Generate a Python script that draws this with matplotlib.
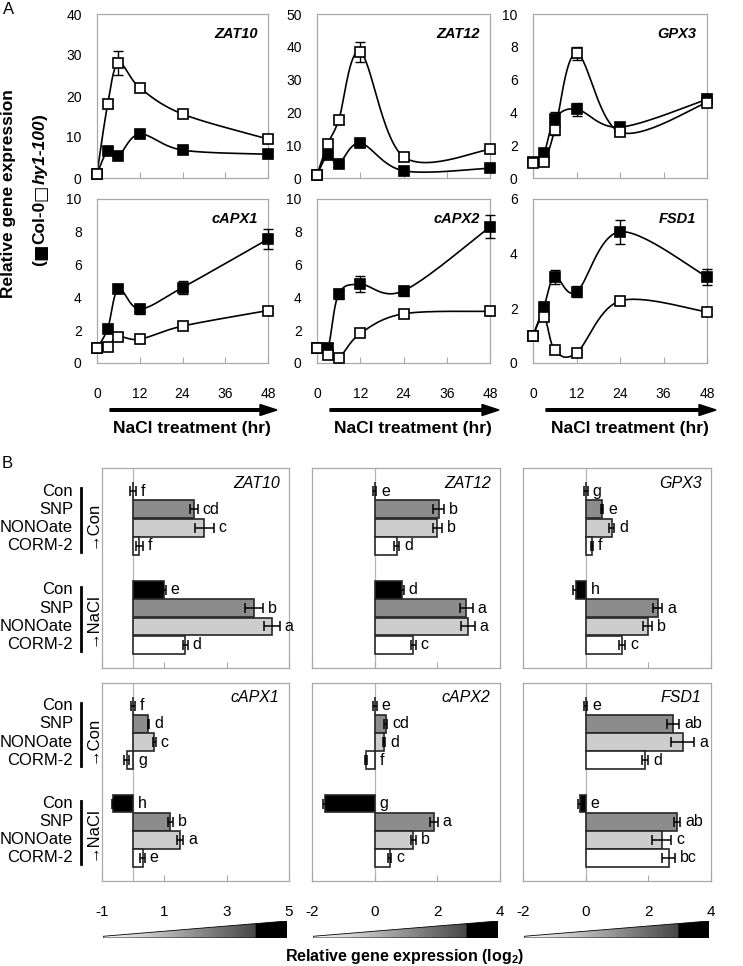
import numpy as np
import matplotlib
matplotlib.use('Agg')
import matplotlib.pyplot as plt
import matplotlib.transforms as mtrans
from matplotlib.patches import FancyArrow, Polygon

plt.rcParams['font.family'] = ['Liberation Sans', 'DejaVu Sans']
plt.rcParams['axes.unicode_minus'] = False
plt.rcParams['mathtext.fontset'] = 'custom'
plt.rcParams['mathtext.bf'] = 'Liberation Sans:bold'

# ---------------- data, panel A (time course) ----------------
hours = [0, 3, 6, 12, 24, 48]
genes_a = ['ZAT10', 'ZAT12', 'GPX3', 'cAPX1', 'cAPX2', 'FSD1']
ymax_a = [40, 50, 10, 10, 10, 6]
ystep_a = [10, 10, 2, 2, 2, 2]

col0_zat10 = [1.0, 6.6, 5.4, 10.7, 6.8, 5.8]
col0_zat10_err = [0.2, 0.8, 0.8, 1.0, 0.8, 0.9]
hy1_zat10 = [1.0, 18.0, 28.0, 22.0, 15.6, 9.5]
hy1_zat10_err = [0.2, 1.0, 3.0, 0.6, 0.6, 1.0]

col0_zat12 = [1.0, 6.9, 4.4, 10.6, 2.2, 3.0]
col0_zat12_err = [0.3, 1.0, 0.5, 1.0, 0.5, 0.6]
hy1_zat12 = [1.0, 10.4, 17.6, 38.4, 6.5, 8.7]
hy1_zat12_err = [0.3, 0.8, 1.0, 3.0, 1.0, 1.0]

col0_gpx3 = [1.0, 1.5, 3.6, 4.2, 3.1, 4.8]
col0_gpx3_err = [0.1, 0.2, 0.4, 0.4, 0.2, 0.3]
hy1_gpx3 = [0.9, 0.95, 2.9, 7.6, 2.8, 4.6]
hy1_gpx3_err = [0.1, 0.1, 0.3, 0.4, 0.2, 0.3]

col0_capx1 = [0.9, 2.1, 4.5, 3.3, 4.6, 7.55]
col0_capx1_err = [0.1, 0.3, 0.2, 0.3, 0.4, 0.6]
hy1_capx1 = [0.9, 1.0, 1.6, 1.45, 2.25, 3.2]
hy1_capx1_err = [0.1, 0.1, 0.2, 0.2, 0.2, 0.15]

col0_capx2 = [0.9, 0.9, 4.2, 4.8, 4.4, 8.3]
col0_capx2_err = [0.1, 0.3, 0.3, 0.5, 0.3, 0.7]
hy1_capx2 = [0.9, 0.5, 0.3, 1.8, 3.0, 3.15]
hy1_capx2_err = [0.1, 0.1, 0.15, 0.1, 0.2, 0.2]

col0_fsd1 = [1.0, 2.05, 3.15, 2.6, 4.8, 3.15]
col0_fsd1_err = [0.05, 0.2, 0.25, 0.2, 0.45, 0.3]
hy1_fsd1 = [1.0, 1.7, 0.47, 0.37, 2.27, 1.87]
hy1_fsd1_err = [0.05, 0.1, 0.05, 0.05, 0.15, 0.1]

col0_a = [col0_zat10, col0_zat12, col0_gpx3, col0_capx1, col0_capx2, col0_fsd1]
col0_a_err = [col0_zat10_err, col0_zat12_err, col0_gpx3_err,
              col0_capx1_err, col0_capx2_err, col0_fsd1_err]
hy1_a = [hy1_zat10, hy1_zat12, hy1_gpx3, hy1_capx1, hy1_capx2, hy1_fsd1]
hy1_a_err = [hy1_zat10_err, hy1_zat12_err, hy1_gpx3_err,
             hy1_capx1_err, hy1_capx2_err, hy1_fsd1_err]

# ---------------- data, panel B (log2 bars) ----------------
treatments = ['Con', 'SNP', 'NONOate', 'CORM-2']
genes_b = ['ZAT10', 'ZAT12', 'GPX3', 'cAPX1', 'cAPX2', 'FSD1']
# order: Con group (Con, SNP, NONOate, CORM-2) then NaCl group
zat10_b = [0.0, 1.95, 2.28, 0.2, 1.0, 3.88, 4.45, 1.67]
zat10_b_err = [0.1, 0.12, 0.3, 0.1, 0.05, 0.3, 0.25, 0.08]
zat10_b_let = ['f', 'cd', 'c', 'f', 'e', 'b', 'a', 'd']

zat12_b = [0.0, 2.04, 2.0, 0.7, 0.87, 2.93, 2.97, 1.23]
zat12_b_err = [0.05, 0.18, 0.15, 0.08, 0.06, 0.2, 0.22, 0.08]
zat12_b_let = ['e', 'b', 'b', 'd', 'd', 'a', 'a', 'c']

gpx3_b = [0.0, 0.52, 0.84, 0.2, -0.32, 2.3, 1.98, 1.16]
gpx3_b_err = [0.06, 0.04, 0.08, 0.03, 0.08, 0.15, 0.15, 0.1]
gpx3_b_let = ['g', 'e', 'd', 'f', 'h', 'a', 'b', 'c']

capx1_b = [0.0, 0.49, 0.68, -0.2, -0.65, 1.19, 1.51, 0.3]
capx1_b_err = [0.06, 0.03, 0.04, 0.08, 0.04, 0.08, 0.1, 0.08]
capx1_b_let = ['f', 'd', 'c', 'g', 'h', 'b', 'a', 'e']

capx2_b = [0.0, 0.35, 0.3, -0.28, -1.6, 1.9, 1.23, 0.48]
capx2_b_err = [0.06, 0.05, 0.04, 0.03, 0.05, 0.12, 0.08, 0.05]
capx2_b_let = ['e', 'cd', 'd', 'f', 'g', 'a', 'b', 'c']

fsd1_b = [0.0, 2.78, 3.1, 1.89, -0.18, 2.92, 2.43, 2.65]
fsd1_b_err = [0.05, 0.2, 0.37, 0.1, 0.05, 0.1, 0.3, 0.2]
fsd1_b_let = ['e', 'ab', 'a', 'd', 'e', 'ab', 'c', 'bc']

vals_b = [zat10_b, zat12_b, gpx3_b, capx1_b, capx2_b, fsd1_b]
errs_b = [zat10_b_err, zat12_b_err, gpx3_b_err, capx1_b_err, capx2_b_err, fsd1_b_err]
lets_b = [zat10_b_let, zat12_b_let, gpx3_b_let, capx1_b_let, capx2_b_let, fsd1_b_let]
xlim_b = [(-1, 5), (-2, 4), (-2, 4)]
xticks_b = [[-1, 1, 3, 5], [-2, 0, 2, 4], [-2, 0, 2, 4]]

# ---------------- layout helpers (pixels) ----------------
W, H = 743, 966
fig = plt.figure(figsize=(W / 100, H / 100), dpi=100)
pix = mtrans.Affine2D().scale(1 / W, -1 / H).translate(0, 1) + fig.transFigure


def box(x0, y0, x1, y1):
    return [x0 / W, 1 - y1 / H, (x1 - x0) / W, (y1 - y0) / H]


def smooth(xs, ys, xr, yr, n=30):
    # excel style smoothed line (catmull-rom bezier) through the points
    p = np.column_stack([np.asarray(xs) / xr, np.asarray(ys) / yr])
    p = np.vstack([p[0], p, p[-1]])
    out = []
    t = np.linspace(0, 1, n)[:, None]
    for i in range(1, len(p) - 2):
        p0, p1, p2, p3 = p[i - 1], p[i], p[i + 1], p[i + 2]
        c1 = p1 + (p2 - p0) / 6
        c2 = p2 - (p3 - p1) / 6
        seg = ((1 - t) ** 3) * p1 + 3 * ((1 - t) ** 2) * t * c1 + 3 * (1 - t) * t ** 2 * c2 + t ** 3 * p2
        out.append(seg)
    out = np.vstack(out)
    return out[:, 0] * xr, out[:, 1] * yr


frame_col = '#a9a9a9'

# ---------------- panel A ----------------
a_cols = [(97, 268), (317, 490), (533, 707)]
a_rows = [(14, 178), (199, 363)]
for i, g in enumerate(genes_a):
    r, c = divmod(i, 3)
    ax = fig.add_axes(box(a_cols[c][0], a_rows[r][0], a_cols[c][1], a_rows[r][1]))
    for s in ax.spines.values():
        s.set_color(frame_col)
        s.set_linewidth(0.9)
    ymax = ymax_a[i]
    ax.set_xlim(0, 48)
    ax.set_ylim(0, ymax)
    ax.set_xticks([0, 12, 24, 36, 48])
    ax.set_yticks(np.arange(0, ymax + 0.01, ystep_a[i]))
    ax.tick_params(axis='x', direction='in', length=4, color=frame_col, labelsize=10, pad=17)
    ax.tick_params(axis='y', length=0, labelsize=10, pad=11)
    if r == 0:
        ax.tick_params(labelbottom=False)
    for ys, es, fc in [(col0_a[i], col0_a_err[i], 'black'), (hy1_a[i], hy1_a_err[i], 'white')]:
        sx, sy = smooth(hours, ys, 48, ymax)
        ax.plot(sx, sy, color='black', lw=1.2, zorder=2, clip_on=False)
        ax.errorbar(hours, ys, yerr=es, fmt='none', ecolor='black', elinewidth=1.0,
                    capsize=3.5, capthick=1.0, zorder=3, clip_on=False)
        ax.plot(hours, ys, 's', ms=7, mfc=fc, mec='black', mew=1.2, ls='none',
                zorder=4, clip_on=False)
    ax.text(0.94, 0.88, g, transform=ax.transAxes, ha='right', va='center',
            fontsize=10.5, fontweight='bold', style='italic')

# arrows and x titles under panel A
for x0, x1, xc in [(110, 277, 192), (330, 499, 413), (546, 716, 630)]:
    fig.add_artist(FancyArrow(x0, 410, x1 - x0, 0, width=2.6, head_width=11, head_length=17,
                              length_includes_head=True, color='black', transform=pix))
    fig.text(xc / W, 1 - 428 / H, 'NaCl treatment (hr)', ha='center', va='center',
             fontsize=12.5, fontweight='bold')

fig.text(9 / W, 1 - 194 / H, 'Relative gene expression', rotation=90, ha='center',
         va='center', fontsize=12.5, fontweight='bold')

# second y-label line, built from pieces stacked bottom to top
renderer = fig.canvas.get_renderer()
pieces = [('(', 'normal', 'Liberation Sans'), ('\u25A0', 'normal', 'DejaVu Sans'),
          ('Col-0', 'normal', 'Liberation Sans'), ('\u25A1', 'normal', 'DejaVu Sans'),
          ('hy1-100', 'italic', 'Liberation Sans'), (')', 'normal', 'Liberation Sans')]
ptexts = []
for s, st, fam in pieces:
    t = fig.text(0, 0, s, rotation=90, ha='center', va='bottom', fontsize=12.5,
                 fontweight='bold', style=st, family=fam)
    ptexts.append((t, t.get_window_extent(renderer).height))
total = sum(h for _, h in ptexts)
ycur = (1 - 190 / H) * H - total / 2
for t, h in ptexts:
    t.set_position((40 / W, ycur / H))
    ycur += h

fig.text(9 / W, 1 - 10 / H, 'A', ha='center', va='center', fontsize=12)
fig.text(7 / W, 1 - 463 / H, 'B', ha='center', va='center', fontsize=12)

# ---------------- panel B ----------------
pos = [0, 1, 2, 3, 5.4, 6.4, 7.4, 8.4]
bar_cols = ['#000000', '#8c8c8c', '#cdcdcd', '#ffffff'] * 2
b_cols = [(102, 289), (312, 500), (523, 711)]
b_rows = [(468, 668), (683, 881)]
for i, g in enumerate(genes_b):
    r, c = divmod(i, 3)
    ax = fig.add_axes(box(b_cols[c][0], b_rows[r][0], b_cols[c][1], b_rows[r][1]))
    for s in ax.spines.values():
        s.set_color(frame_col)
        s.set_linewidth(0.9)
    ax.axvline(0, color='#b5b5b5', lw=0.9, zorder=1)
    ax.barh(pos, vals_b[i], height=0.97, color=bar_cols, edgecolor='#262626', lw=1.2, zorder=2)
    ax.errorbar(vals_b[i], pos, xerr=errs_b[i], fmt='none', ecolor='black', elinewidth=1.1,
                capsize=3.5, capthick=1.1, zorder=3)
    for v, e, p, lt in zip(vals_b[i], errs_b[i], pos, lets_b[i]):
        ax.annotate(lt, xy=(max(v + e, 0), p), xytext=(3.5, 0), textcoords='offset points',
                    ha='left', va='center', fontsize=11.5)
    ax.set_xlim(*xlim_b[c])
    ax.set_ylim(9.67, -1.26)
    ax.set_yticks([])
    ax.set_xticks(xticks_b[c])
    ax.tick_params(axis='x', direction='in', length=4, color=frame_col, labelsize=11, pad=17)
    if r == 0:
        ax.tick_params(labelbottom=False)
    ax.text(0.95, 0.925, g, transform=ax.transAxes, ha='right', va='center',
            fontsize=11.5, style='italic')
    if c == 0:
        tr = mtrans.blended_transform_factory(fig.transFigure, ax.transData)
        for p, lab in zip(pos, treatments * 2):
            ax.text(73 / W, p, lab, transform=tr, ha='right', va='center', fontsize=12,
                    clip_on=False)
        for y0, y1, yc, lab in [(-0.16, 3.34, 1.83, '→Con'), (5.24, 8.74, 7.0, '→NaCl')]:
            ax.plot([81 / W, 81 / W], [y0, y1], color='black', lw=2, transform=tr, clip_on=False)
            ax.text(92 / W, yc, lab, transform=tr, rotation=90, ha='center', va='center',
                    fontsize=12, clip_on=False)

# gradient wedges under panel B
grad_x = np.linspace(0, 1, 400)
grad = np.where(grad_x < 0.83, 1 - 0.72 * grad_x / 0.83, 0.0)
for c, (x0, x1) in enumerate(b_cols):
    gax = fig.add_axes(box(x0 + 1, 921, x1 - 2, 938))
    gax.set_xlim(0, 1)
    gax.set_ylim(0, 1)
    gax.axis('off')
    tri = Polygon([(0, 0), (1, 0), (1, 1), (0, 0.1)], closed=True, facecolor='none',
                  edgecolor='black', lw=0.6, transform=gax.transData)
    im = gax.imshow(grad[None, :], cmap='gray', vmin=0, vmax=1, extent=[0, 1, 0, 1],
                    aspect='auto', interpolation='bilinear')
    im.set_clip_path(tri)
    gax.add_patch(tri)

fig.text(405 / W, 1 - 957 / H, r'Relative gene expression (log$_{\mathbf{2}}$)', ha='center',
         va='center', fontsize=11.5, fontweight='bold')

fig.savefig('out.png', dpi=100)
